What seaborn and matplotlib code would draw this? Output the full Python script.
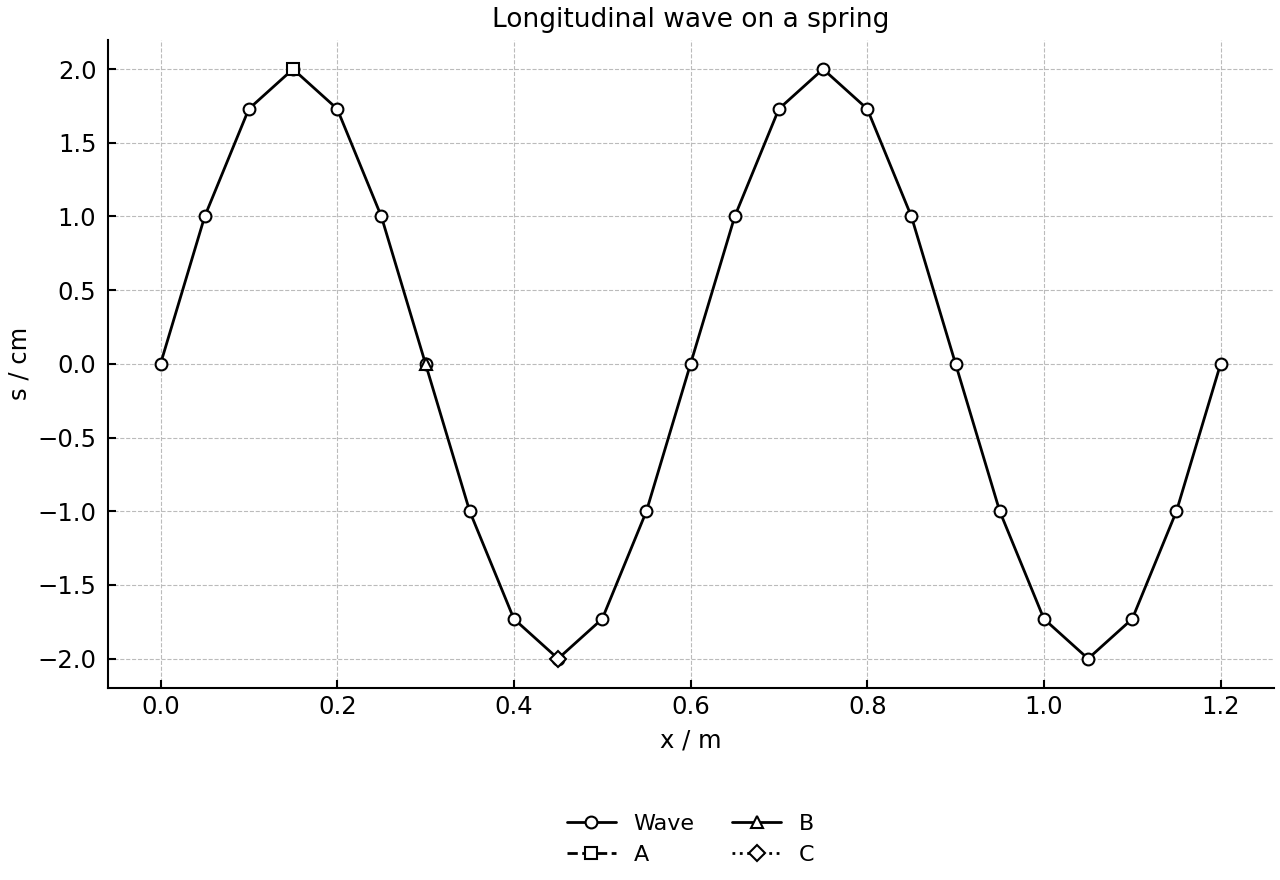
import pandas as pd
import matplotlib
matplotlib.use("Agg")
import matplotlib.pyplot as plt
import seaborn as sns

# wave samples
x_m = [0.0, 0.05, 0.1, 0.15, 0.2, 0.25, 0.3, 0.35, 0.4, 0.45, 0.5, 0.55, 0.6,
       0.65, 0.7, 0.75, 0.8, 0.85, 0.9, 0.95, 1.0, 1.05, 1.1, 1.15, 1.2]
s_cm = [0.0, 1.0, 1.73, 2.0, 1.73, 1.0, 0.0, -1.0, -1.73, -2.0, -1.73, -1.0, 0.0,
        1.0, 1.73, 2.0, 1.73, 1.0, 0.0, -1.0, -1.73, -2.0, -1.73, -1.0, 0.0]

# marked points
point_names = ["A", "B", "C"]
point_x = [0.15, 0.3, 0.45]
point_s = [2.0, 0.0, -2.0]
point_markers = ["s", "^", "D"]
point_styles = ["--", "-", ":"]

sns.set_style("ticks")
plt.rcParams["font.family"] = ["DejaVu Sans"]
plt.rcParams["text.color"] = "black"
plt.rcParams["axes.labelcolor"] = "black"
plt.rcParams["xtick.color"] = "black"
plt.rcParams["ytick.color"] = "black"
plt.rcParams["axes.edgecolor"] = "black"

fig, ax = plt.subplots(figsize=(12.8, 8.8), dpi=100)

df = pd.DataFrame({"x": x_m, "s": s_cm})
sns.lineplot(data=df, x="x", y="s", ax=ax, color="black", linewidth=2,
             marker="o", markersize=8.5, markerfacecolor="white",
             markeredgecolor="black", markeredgewidth=1.5, label="Wave")

for name, px, ps, mk, ls in zip(point_names, point_x, point_s, point_markers, point_styles):
    ax.plot([px], [ps], color="black", linestyle=ls, linewidth=2, marker=mk,
            markersize=9 if mk != "D" else 8, markerfacecolor="white",
            markeredgecolor="black", markeredgewidth=1.5, label=name)

ax.set_xlim(-0.06, 1.26)
ax.set_ylim(-2.2, 2.2)
ax.set_xticks([0.0, 0.2, 0.4, 0.6, 0.8, 1.0, 1.2])
ax.set_yticks([-2.0, -1.5, -1.0, -0.5, 0.0, 0.5, 1.0, 1.5, 2.0])
ax.grid(True, linestyle="--", color="#bbbbbb", linewidth=0.8)
ax.tick_params(direction="in", labelsize=17.5, width=1.5, length=6)
ax.tick_params(axis="x", pad=5)
ax.tick_params(axis="y", pad=8)
for sp in ax.spines.values():
    sp.set_linewidth(1.5)
sns.despine(ax=ax)

ax.set_title("Longitudinal wave on a spring", fontsize=19, pad=9)
ax.set_xlabel("x / m", fontsize=17.5, labelpad=7)
ax.set_ylabel("s / cm", fontsize=17.5, labelpad=4)

ax.legend(loc="upper center", bbox_to_anchor=(0.5, -0.163), ncol=2,
          frameon=False, fontsize=16, columnspacing=1.7, handlelength=2.2)

fig.subplots_adjust(left=0.084, right=0.995, top=0.955, bottom=0.218)
fig.savefig("out.png", dpi=100)
